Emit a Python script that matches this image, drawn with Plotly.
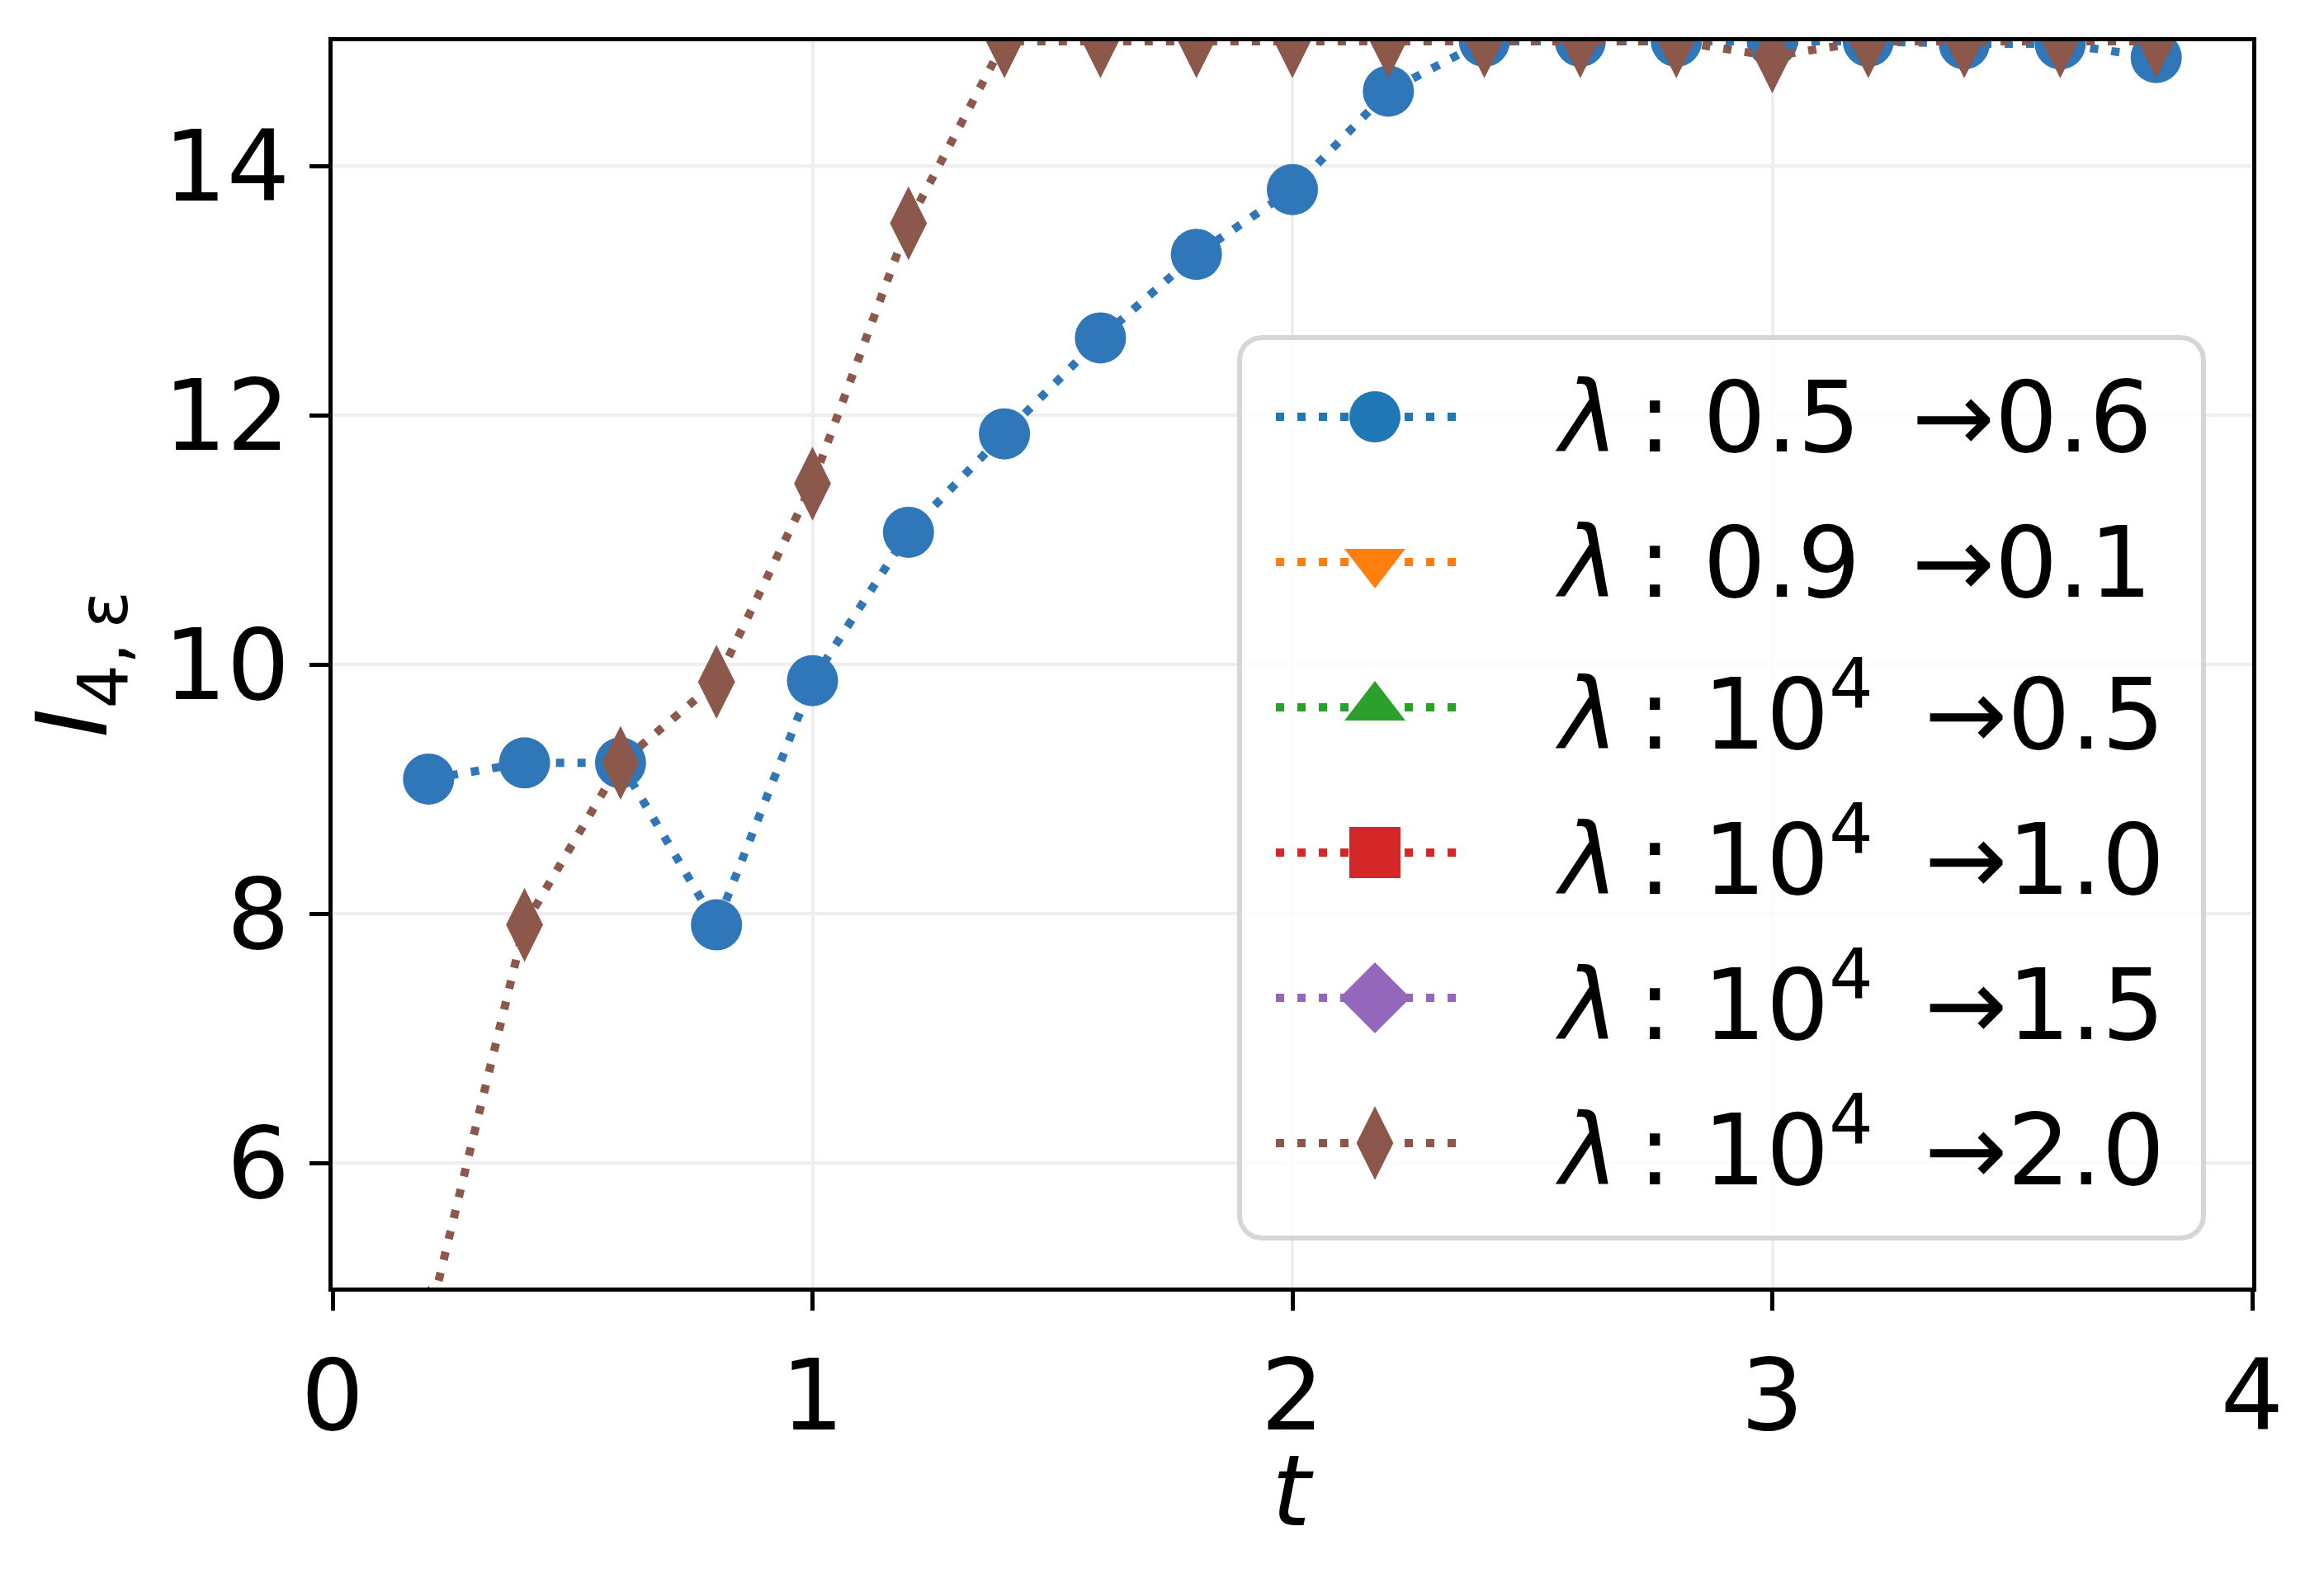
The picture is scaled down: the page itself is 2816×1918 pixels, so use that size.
import numpy as np
import plotly.graph_objects as go

# data
t = [0.2, 0.4, 0.6, 0.8, 1.0, 1.2, 1.4, 1.6, 1.8, 2.0,
     2.2, 2.4, 2.6, 2.8, 3.0, 3.2, 3.4, 3.6, 3.8]
i4_blue = [9.08, 9.21, 9.21, 7.91, 9.87, 11.06, 11.85, 12.62, 13.29, 13.81,
           14.60, 15.0, 15.0, 15.0, 15.0, 15.0, 14.98, 14.98, 14.87]
i4_brown = [4.72, 7.91, 9.21, 9.86, 11.45, 13.54, 15.0, 15.0, 15.0, 15.0,
            15.0, 15.0, 15.0, 15.0, 14.88, 15.0, 15.0, 15.0, 15.0]

labels = [
    "<i>λ</i>\u2009: 0.5\u00a0\u2009→0.6",
    "<i>λ</i>\u2009: 0.9\u00a0\u2009→0.1",
    "<i>λ</i>\u2009: 10<sup>4</sup>\u00a0\u2009→0.5",
    "<i>λ</i>\u2009: 10<sup>4</sup>\u00a0\u2009→1.0",
    "<i>λ</i>\u2009: 10<sup>4</sup>\u00a0\u2009→1.5",
    "<i>λ</i>\u2009: 10<sup>4</sup>\u00a0\u2009→2.0",
]
colors = ["#1f77b4", "#ff7f0e", "#2ca02c", "#d62728", "#9467bd", "#8c564b"]
plot_colors = {0: "#2f77b8", 5: "#8b584b"}  # markers look a touch lighter in the plot
symbols = ["circle", "triangle-down", "triangle-up", "square", "diamond", "diamond-tall"]
msizes = [62, 64, 64, 62, 66, 64]

# page has an 8px body margin, so the figure is a bit smaller than the window
W, H = 2800, 1900
OFF = 8
PL, PR, PT, PB = 403, 2729, 50, 1560   # plot area in screen pixels
FONT = "DejaVu Sans"

fig = go.Figure()

# visible data series
for y, k in [(i4_blue, 0), (i4_brown, 5)]:
    fig.add_trace(go.Scatter(
        x=t, y=y, mode="lines+markers",
        line=dict(color=plot_colors[k], width=10, dash="10px,16px"),
        marker=dict(symbol=symbols[k], size=msizes[k], color=plot_colors[k]),
        showlegend=False, hoverinfo="x+y"))

# hand-built legend on an overlay axis in screen pixel units
bx0, bx1, by0, by1, rad = 1502, 2670, 409, 1500, 27
ang = np.linspace(0, np.pi / 2, 12)
px, py = [], []
for cx, cy, a0 in [(bx1 - rad, by0 + rad, -np.pi / 2), (bx1 - rad, by1 - rad, 0),
                   (bx0 + rad, by1 - rad, np.pi / 2), (bx0 + rad, by0 + rad, np.pi)]:
    px += list(cx + rad * np.cos(a0 + ang))
    py += list(cy + rad * np.sin(a0 + ang))
fig.add_trace(go.Scatter(
    x=px + [px[0]], y=py + [py[0]], mode="lines", fill="toself",
    fillcolor="rgba(255,255,255,0.8)", line=dict(color="#d6d6d6", width=6),
    xaxis="x2", yaxis="y2", showlegend=False, hoverinfo="skip"))

row0, row_step = 505, 176
for i, lab in enumerate(labels):
    ry = row0 + i * row_step
    fig.add_trace(go.Scatter(
        x=[1546, 1777], y=[ry, ry], mode="lines",
        line=dict(color=colors[i], width=10, dash="10px,16px"),
        xaxis="x2", yaxis="y2", showlegend=False, hoverinfo="skip", cliponaxis=False))
    fig.add_trace(go.Scatter(
        x=[1666], y=[ry], mode="markers",
        marker=dict(symbol=symbols[i], size=msizes[i], color=colors[i]),
        xaxis="x2", yaxis="y2", showlegend=False, hoverinfo="skip", cliponaxis=False))
    fig.add_annotation(
        x=1882, y=ry, xref="x2", yref="y2", text=lab, showarrow=False,
        xanchor="left", yanchor="middle", font=dict(size=120, color="black", family=FONT))

# x axis title placed directly under the tick labels (paper coords)
fig.add_annotation(
    x=0.5, y=-(1806 - PB) / (PB - PT), xref="paper", yref="paper", text="<i>t</i>",
    showarrow=False, xanchor="center", yanchor="middle",
    font=dict(size=120, color="black", family=FONT))

axis_common = dict(
    showline=True, linecolor="black", linewidth=5, mirror=True,
    ticks="outside", ticklen=23, tickwidth=5, tickcolor="black",
    showgrid=True, gridcolor="#eeeeee", gridwidth=4, zeroline=False,
    tickfont=dict(size=120, color="black", family=FONT), automargin=False,
)

fig.update_layout(
    width=W, height=H,
    margin=dict(l=PL - OFF, r=W - (PR - OFF), t=PT - OFF, b=H - (PB - OFF)),
    paper_bgcolor="white", plot_bgcolor="white",
    font=dict(family=FONT, color="black"),
    xaxis=dict(range=[0, 4], tickvals=[0, 1, 2, 3, 4], **axis_common),
    yaxis=dict(range=[5, 15], tickvals=[6, 8, 10, 12, 14],
               title=dict(text="<i>I</i><sub>4,\u2009ε</sub>", font=dict(size=120), standoff=30),
               **axis_common),
    xaxis2=dict(overlaying="x", range=[PL, PR], visible=False, fixedrange=True),
    yaxis2=dict(overlaying="y", range=[PB, PT], visible=False, fixedrange=True),
)

fig.write_html("out.html")
